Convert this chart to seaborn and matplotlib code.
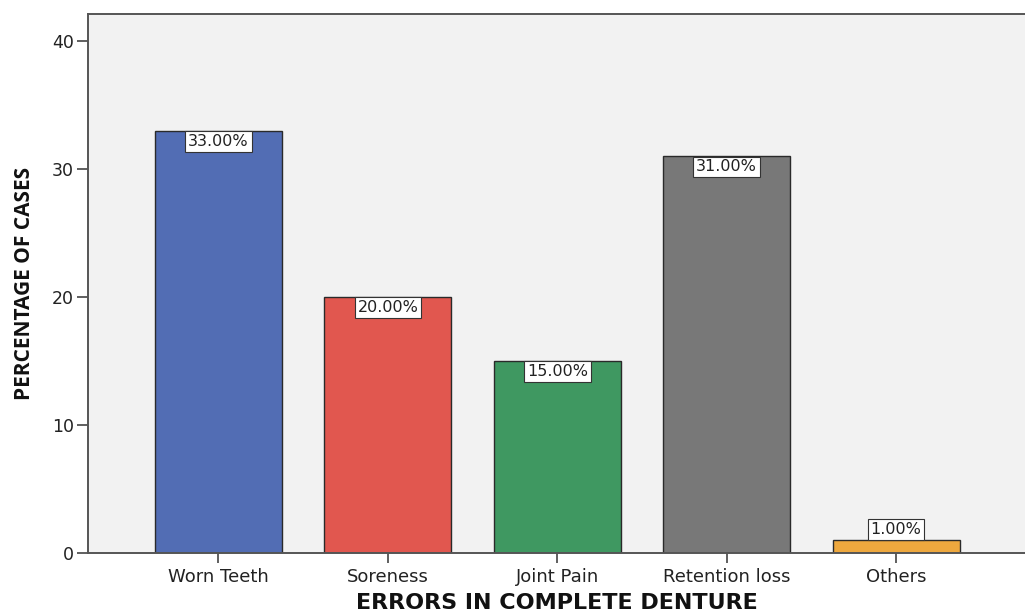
import matplotlib
matplotlib.use('Agg')
import matplotlib.pyplot as plt
import seaborn as sns
import pandas as pd

# Data
categories = ['Worn Teeth', 'Soreness', 'Joint Pain', 'Retention loss', 'Others']
percentages = [33.0, 20.0, 15.0, 31.0, 1.0]
bar_colors = ['#526db4', '#e1574f', '#3f9861', '#787878', '#eea83e']

df = pd.DataFrame({'Error': categories, 'Percent': percentages})

sns.set_style('ticks')
plt.rcParams['font.family'] = ['DejaVu Sans']

fig = plt.figure(figsize=(10.25, 6.13), dpi=100)
ax = fig.add_axes([0.0859, 0.098, 0.914, 0.879])

sns.barplot(data=df, x='Error', y='Percent', hue='Error', palette=bar_colors,
            legend=False, width=0.75, edgecolor='#2a2a2a', linewidth=1.0,
            saturation=1, ax=ax)

ax.set_facecolor('#f2f2f2')
ax.set_xlim(-0.77, 4.76)
ax.set_ylim(0, 42.1)
ax.set_yticks([0, 10, 20, 30, 40])

# value labels in white boxes at the top of each bar (above it if the bar is too short)
for i, v in enumerate(percentages):
    if v < 3:
        off, va = 2.4, 'bottom'
    else:
        off, va = -2.4, 'top'
    ax.annotate(f'{v:.2f}%', xy=(i, v), xytext=(0, off), textcoords='offset points',
                ha='center', va=va, fontsize=11.5, color='#222222',
                family='DejaVu Sans',
                bbox=dict(boxstyle='square,pad=0.18', facecolor='white',
                          edgecolor='#333333', linewidth=0.8))

ax.spines['right'].set_visible(False)
for s in ['left', 'bottom', 'top']:
    ax.spines[s].set_color('#555555')
    ax.spines[s].set_linewidth(1.4)

ax.tick_params(axis='y', length=8, width=1.2, color='#444444', labelsize=12.5,
               labelcolor='#222222', pad=2)
ax.tick_params(axis='x', length=7, width=1.2, color='#444444', labelsize=13,
               labelcolor='#222222', pad=4)
for lab in ax.get_xticklabels() + ax.get_yticklabels():
    lab.set_family('DejaVu Sans')

ax.set_xlabel('ERRORS IN COMPLETE DENTURE', fontsize=16, fontweight='bold',
              family='DejaVu Sans', color='#111111', labelpad=5)
ax.set_ylabel('PERCENTAGE OF CASES', fontsize=15, fontweight='bold',
              family='Open Sans', color='#111111', labelpad=12)

fig.savefig('out.png', dpi=100)
